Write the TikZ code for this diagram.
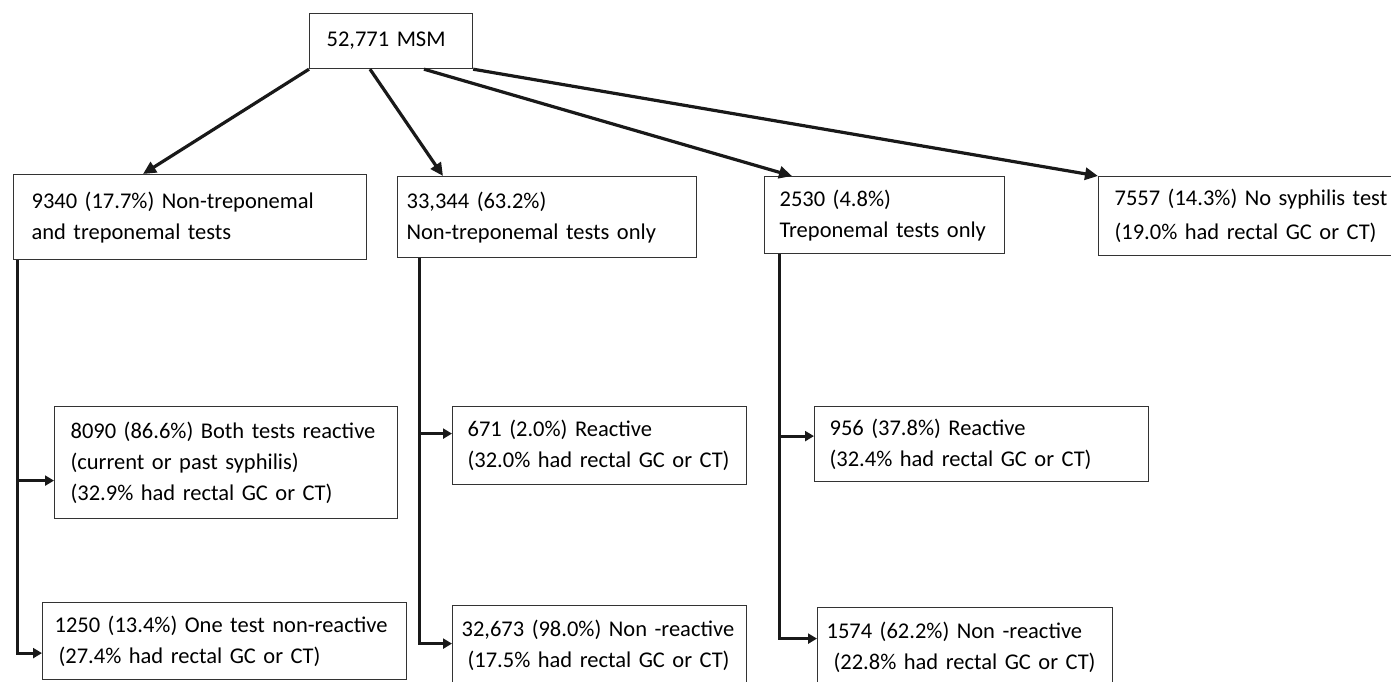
\documentclass[tikz,border=0pt]{standalone}
\usepackage{fontspec}
\setmainfont{Carlito}
\usetikzlibrary{arrows.meta}

\tikzset{
  box/.style={draw=black!80, line width=1.2pt, anchor=north west, align=left,
    inner ysep=2pt, font=\fontsize{22.5}{31}\selectfont},
  flow/.style={draw=black!90, line width=3.2pt, -{Triangle[length=13pt,width=12pt]}},
  branch/.style={draw=black!90, line width=3pt, -{Triangle[length=9pt,width=10pt]}},
}

\begin{document}
\begin{tikzpicture}[x=1pt,y=-1pt]
  \useasboundingbox (0,0) rectangle (1391,682);

  % Define nodes
  \node[box, inner xsep=17pt, text width=129pt, minimum height=55pt] (msm)     at (309,13)  {52,771 MSM};

  \node[box, inner xsep=18pt, text width=317pt, minimum height=85pt] (both)    at (13,174)  {9340 (17.7\%) Non-treponemal\\and treponemal tests};
  \node[box, inner xsep=9pt,  text width=281pt, minimum height=81pt] (nontrep) at (397,176) {33,344 (63.2\%)\\Non-treponemal tests only};
  \node[box, inner xsep=15pt, text width=210pt, minimum height=77pt] (trep)    at (764,176) {2530 (4.8\%)\\Treponemal tests only};
  \node[box, inner xsep=16pt, text width=275pt, minimum height=79pt,
        font=\fontsize{22.5}{34}\selectfont]                          (notest)  at (1098,176) {7557 (14.3\%) No syphilis test\\(19.0\% had rectal GC or CT)};

  \node[box, inner xsep=16pt, text width=311pt, minimum height=112pt] (both-r)  at (54,406)  {8090 (86.6\%) Both tests reactive\\(current or past syphilis)\\(32.9\% had rectal GC or CT)};
  \node[box, inner xsep=12pt, text width=340pt, minimum height=77pt]  (both-nr) at (42,602)  {1250 (13.4\%) One test non-reactive\\\hspace*{4pt}(27.4\% had rectal GC or CT)};
  \node[box, inner xsep=15pt, text width=264pt, minimum height=78pt]  (nt-r)    at (452,406) {671 (2.0\%) Reactive\\(32.0\% had rectal GC or CT)};
  \node[box, inner xsep=9pt,  text width=276pt, minimum height=80pt]  (nt-nr)   at (452,605) {32,673 (98.0\%) Non -reactive\\\hspace*{6pt}(17.5\% had rectal GC or CT)};
  \node[box, inner xsep=15pt, text width=304pt, minimum height=75pt]  (t-r)     at (814,406) {956 (37.8\%) Reactive\\(32.4\% had rectal GC or CT)};
  \node[box, inner xsep=9pt,  text width=277pt, minimum height=80pt]  (t-nr)    at (817,607) {1574 (62.2\%) Non -reactive\\\hspace*{7pt}(22.8\% had rectal GC or CT)};

  % Connect the nodes
  \draw[flow] (msm.south west)               -- ([xshift=130pt]both.north west);
  \draw[flow] ([xshift=61pt]msm.south west)  -- ([xshift=46pt]nontrep.north west);
  \draw[flow] ([xshift=115pt]msm.south west) -- ([xshift=28pt]trep.north west);
  \draw[flow] (msm.south east)               -- (notest.north west);

  \draw[branch] ([xshift=4pt]both.south west)     |- ([yshift=-18pt]both-r.west);
  \draw[branch] ([xshift=4pt]both.south west)     |- ([yshift=-12pt]both-nr.west);
  \draw[branch] ([xshift=22pt]nontrep.south west) |- ([yshift=12pt]nt-r.west);
  \draw[branch] ([xshift=22pt]nontrep.south west) |- ([yshift=2pt]nt-nr.west);
  \draw[branch] ([xshift=15pt]trep.south west)    |- ([yshift=8pt]t-r.west);
  \draw[branch] ([xshift=15pt]trep.south west)    |- ([yshift=9pt]t-nr.west);

\end{tikzpicture}
\end{document}
